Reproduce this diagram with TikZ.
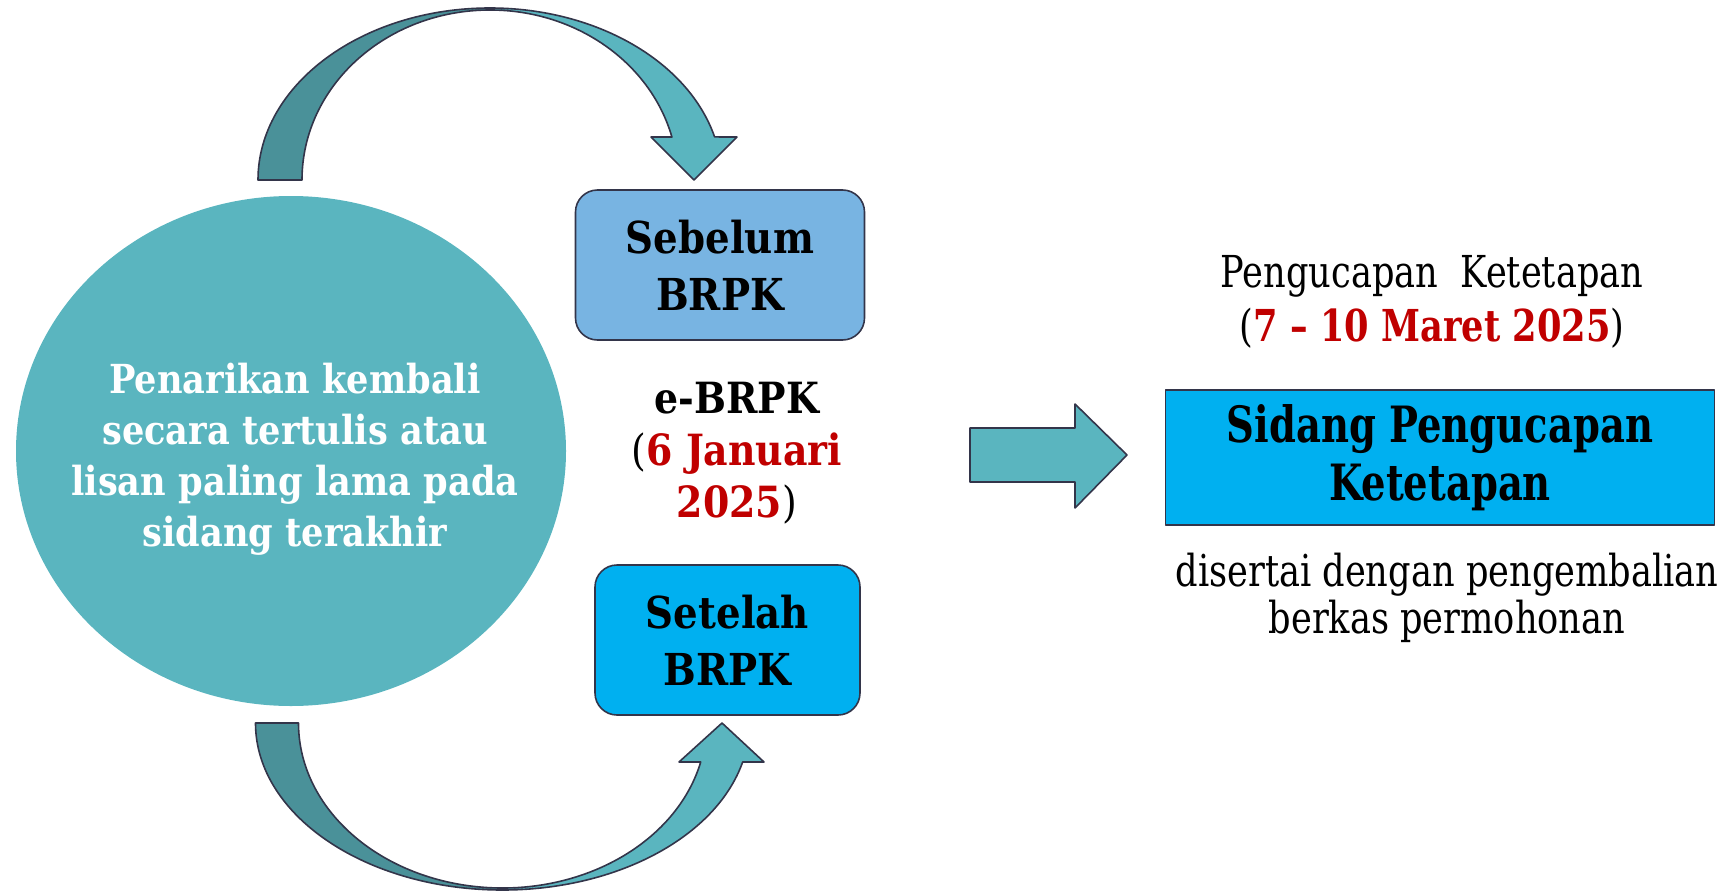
\documentclass[tikz,border=0pt]{standalone}
\usepackage{fontspec}
\setmainfont{DejaVu Serif}
\newfontfamily\midfont{DejaVu Serif}[FakeStretch=0.88]
\newfontfamily\condfont{DejaVu Serif}[FakeStretch=0.8]
\newfontfamily\condbfont{DejaVu Serif}[FakeStretch=0.77]
\usetikzlibrary{shapes.geometric}
\definecolor{circc}{HTML}{5AB5BF}
\definecolor{darkarr}{HTML}{4A9199}
\definecolor{edgec}{HTML}{33354A}
\definecolor{sebc}{HTML}{78B4E2}
\definecolor{cyanc}{HTML}{00B0F0}
\definecolor{redc}{HTML}{C00000}
\begin{document}
\begin{tikzpicture}[x=1pt,y=-1pt,line join=round,
  shapeedge/.style={draw=edgec,line width=1.6pt},
  darkpiece/.style={shapeedge,fill=darkarr},
  lightpiece/.style={shapeedge,fill=circc},
  boxstyle/.style={shapeedge,align=center,inner sep=0pt,font=\midfont\bfseries\fontsize{44}{57}\selectfont},
  plain/.style={align=center,inner sep=0pt}]
\useasboundingbox (0,0) rectangle (1729,891);
% big circle
\node[ellipse,fill=circc,minimum width=550pt,minimum height=510pt,inner sep=0pt] (circ) at (291,451) {};
\node[plain,text=white,font=\midfont\bfseries\fontsize{40}{51}\selectfont] (circtext) at (295,459)
  {Penarikan kembali\\secara tertulis atau\\lisan paling lama pada\\sidang terakhir};
% top curved arrow
\filldraw[darkpiece] (258,180) arc[start angle=180,end angle=270,x radius=232,y radius=172]
  -- (490,10) arc[start angle=270,end angle=180,x radius=188,y radius=170] -- cycle;
\filldraw[lightpiece] (490,8) arc[start angle=-90,end angle=-14.5,x radius=232,y radius=172]
  -- (737,137) -- (694,180) -- (651,137) -- (671.9,137)
  arc[start angle=-14.65,end angle=-90,x radius=188,y radius=170] -- cycle;
% bottom curved arrow
\filldraw[darkpiece] (255.5,723) arc[start angle=180,end angle=90,x radius=247,y radius=167]
  -- (502.5,888) arc[start angle=90,end angle=180,x radius=204,y radius=165] -- cycle;
\filldraw[lightpiece] (502.5,890) arc[start angle=90,end angle=13.5,x radius=247,y radius=167]
  -- (764,762) -- (722,723) -- (679,762) -- (700.7,762)
  arc[start angle=13.67,end angle=90,x radius=204,y radius=165] -- cycle;
% boxes
\node[boxstyle,fill=sebc,rounded corners=22pt,minimum width=289pt,minimum height=150pt] (seb) at (720,265) {Sebelum\\BRPK};
\node[boxstyle,fill=cyanc,rounded corners=22pt,minimum width=265pt,minimum height=150pt] (set) at (727.5,640) {Setelah\\BRPK};
\node[plain,font=\midfont\bfseries\fontsize{43}{52}\selectfont] (ebrpk) at (737,453)
  {e-BRPK\\{\mdseries(}\textcolor{redc}{6 Januari}\\\textcolor{redc}{2025}{\mdseries)}};
% right block arrow
\filldraw[lightpiece] (970,428) -- (1075,428) -- (1075,404) -- (1127,455) -- (1075,508) -- (1075,482) -- (970,482) -- cycle;
\node[shapeedge,fill=cyanc,minimum width=549pt,minimum height=135pt,inner sep=0pt,align=center,
  font=\condbfont\bfseries\fontsize{50}{58}\selectfont] (sidang) at (1440,457.5) {Sidang Pengucapan\\Ketetapan};
\node[plain,font=\condfont\fontsize{44}{54}\selectfont] (peng) at (1432,302)
  {Pengucapan\ \ Ketetapan\\(\textcolor{redc}{\bfseries 7 – 10 Maret 2025})};
\node[plain,font=\condfont\fontsize{44}{47}\selectfont] (diser) at (1447,598)
  {disertai dengan pengembalian\\berkas permohonan};
\end{tikzpicture}
\end{document}
